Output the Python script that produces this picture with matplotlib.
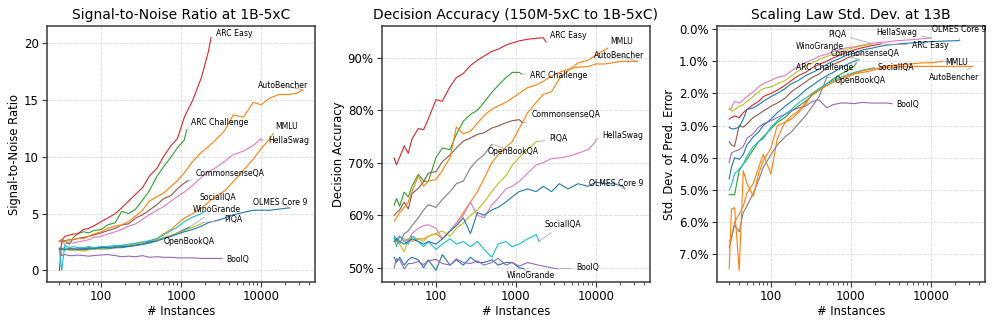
import matplotlib
matplotlib.use("Agg")
import matplotlib.pyplot as plt
from matplotlib.ticker import (LogLocator, FuncFormatter, NullFormatter,
                               MultipleLocator, PercentFormatter)

# ---------------- data ----------------
TASKS = ["WinoGrande", "MMLU", "ARC Challenge", "ARC Easy", "BoolQ",
         "CommonsenseQA", "HellaSwag", "OpenBookQA", "PIQA", "SocialIQA",
         "OLMES Core 9", "AutoBencher"]
COLORS = ["#1f77b4", "#ff7f0e", "#2ca02c", "#d62728", "#9467bd", "#8c564b",
          "#e377c2", "#7f7f7f", "#bcbd22", "#17becf", "#1f77b4", "#ff7f0e"]
MAX_N = [1267, 14042, 1172, 2376, 3270, 1221, 10042, 500, 1838, 1954, 23000, 33500]
GRID = [30, 32, 35, 40, 45, 50, 60, 70, 80, 100, 120, 150, 180, 220, 270, 330,
        400, 500, 600, 750, 900, 1100, 1400, 1800, 2200, 2800, 3500, 4500, 6000,
        8000, 10000, 13000, 17000, 22000, 28000]

SNR = {
    "WinoGrande": [1.9, 1.8, 1.9, 1.8, 1.8, 1.9, 1.8, 1.9, 1.9, 1.9, 1.9, 2.0, 2.0, 2.1, 2.2, 2.3,
                   2.4, 2.6, 2.8, 3.0, 3.3, 3.6, 3.8],
    "MMLU": [2.0, 1.9, 2.0, 1.9, 1.9, 1.9, 1.9, 2.0, 2.0, 2.0, 2.0, 2.1, 2.2, 2.2, 2.3, 2.5, 2.6,
             2.8, 3.2, 3.6, 4.1, 4.6, 5.0, 5.5, 6.0, 6.6, 7.0, 7.8, 8.8, 9.8, 10.7, 11.6, 12.0],
    "ARC Challenge": [2.6, 2.5, 2.6, 2.3, 2.9, 3.2, 3.4, 3.3, 3.5, 3.6, 4.0, 4.2, 5.2, 5.0, 5.4,
                      6.2, 7.0, 8.3, 9.1, 10.0, 10.8, 11.5, 12.4],
    "ARC Easy": [0.0, 2.6, 3.0, 3.1, 3.2, 3.2, 3.6, 3.7, 3.9, 4.3, 4.6, 5.0, 5.5, 6.1, 6.7, 7.3,
                 8.3, 9.0, 10.0, 11.0, 11.6, 13.5, 15.0, 17.0, 19.3, 20.5],
    "BoolQ": [1.9, 1.3, 1.4, 1.3, 1.3, 1.35, 1.3, 1.25, 1.3, 1.35, 1.4, 1.3, 1.2, 1.25, 1.2, 1.3,
              1.15, 1.2, 1.15, 1.15, 1.1, 1.1, 1.1, 1.05, 1.05, 1.05, 1.05],
    "CommonsenseQA": [2.6, 2.7, 2.6, 2.7, 2.7, 2.8, 2.9, 3.0, 3.1, 3.3, 3.5, 3.7, 4.0, 4.1, 4.6,
                      4.9, 5.3, 5.8, 6.3, 6.6, 7.2, 7.7, 7.9],
    "HellaSwag": [2.6, 2.5, 2.3, 2.5, 2.4, 2.5, 2.6, 2.7, 2.9, 3.0, 3.2, 3.4, 3.6, 3.9, 4.1, 4.5,
                  4.9, 5.3, 5.6, 6.1, 6.5, 6.9, 7.5, 8.2, 8.7, 9.1, 9.6, 10.2, 10.5, 11.0, 11.6, 11.5],
    "OpenBookQA": [1.9, 1.9, 1.8, 1.9, 1.8, 1.9, 1.9, 2.0, 1.9, 2.0, 2.0, 2.1, 2.1, 2.2, 2.3, 2.3,
                   2.5, 2.6],
    "PIQA": [1.8, 1.8, 1.9, 1.8, 1.8, 1.8, 1.7, 1.8, 1.9, 1.9, 2.0, 2.0, 2.1, 2.2, 2.3, 2.4, 2.5,
             2.7, 2.9, 3.1, 3.3, 3.5, 3.8, 4.1, 4.2],
    "SocialIQA": [1.9, 0.0, 2.2, 2.0, 2.1, 2.0, 2.0, 2.1, 2.0, 2.1, 2.1, 2.2, 2.2, 2.3, 2.4, 2.5,
                  2.6, 2.8, 3.1, 3.5, 3.8, 4.3, 4.7, 5.0, 5.2],
    "OLMES Core 9": [1.9, 1.9, 1.8, 1.9, 1.9, 1.8, 1.9, 1.9, 1.9, 2.0, 2.0, 2.0, 2.1, 2.1, 2.2,
                     2.3, 2.5, 2.6, 2.8, 3.0, 3.2, 3.4, 3.6, 3.9, 4.2, 4.4, 4.6, 4.9, 5.1, 5.3,
                     5.3, 5.3, 5.4, 5.5, 5.5],
    "AutoBencher": [2.6, 2.7, 2.6, 2.7, 2.7, 2.8, 2.8, 3.0, 3.2, 3.4, 3.7, 3.9, 4.0, 4.3, 4.8, 5.3,
                    6.1, 6.5, 6.8, 7.4, 7.9, 8.6, 9.6, 10.4, 10.9, 11.6, 12.3, 13.7, 13.5, 14.8,
                    14.6, 15.2, 15.5, 15.5, 15.6, 15.9],
}

DEC_ACC = {
    "WinoGrande": [52.0, 51.0, 52.0, 50.5, 51.5, 52.0, 51.5, 50.0, 51.5, 49.5, 52.5, 50.5, 51.5,
                   50.5, 52.0, 51.0, 51.0, 51.5, 50.5, 51.0, 51.0, 50.0, 49.8],
    "MMLU": [55.0, 55.5, 56.0, 55.0, 55.5, 55.0, 55.5, 55.5, 56.0, 56.5, 55.5, 57.0, 58.5, 60.5,
             62.5, 64.5, 67.0, 70.0, 71.5, 73.0, 74.0, 76.5, 79.5, 81.5, 83.0, 83.5, 86.0, 87.5,
             89.0, 89.5, 90.5, 91.5, 91.8],
    "ARC Challenge": [61.9, 63.2, 61.7, 64.4, 63.5, 65.5, 67.8, 66.5, 66.4, 71.0, 72.8, 72.5, 75.4,
                      77.9, 79.2, 80.0, 81.5, 83.4, 84.7, 86.2, 87.2, 87.2, 86.9],
    "ARC Easy": [70.9, 69.6, 71.0, 73.2, 71.8, 74.5, 76.5, 76.3, 78.3, 82.0, 81.7, 84.5, 86.2, 87.0,
                 88.5, 89.5, 90.3, 91.2, 91.6, 92.4, 92.8, 93.2, 93.5, 93.7, 93.8, 93.0],
    "BoolQ": [50.0, 51.7, 51.5, 49.8, 50.8, 50.8, 51.2, 50.6, 51.3, 51.6, 50.8, 50.5, 51.7, 51.0,
              50.8, 51.3, 50.5, 51.0, 51.8, 50.5, 51.0, 50.3, 51.0, 50.6, 50.3, 50.0, 49.8],
    "CommonsenseQA": [60.0, 60.5, 61.0, 62.5, 61.2, 64.1, 65.1, 66.4, 68.0, 68.3, 70.2, 71.5, 72.8,
                      74.1, 74.7, 75.4, 75.7, 76.6, 77.0, 77.6, 78.0, 78.2, 77.6],
    "HellaSwag": [55.5, 55.0, 56.0, 55.5, 55.0, 56.5, 57.5, 58.0, 58.2, 57.5, 55.5, 57.0, 58.5,
                  60.0, 62.5, 60.0, 59.5, 62.0, 63.2, 65.0, 65.5, 66.4, 68.0, 69.6, 70.0, 70.8,
                  70.9, 71.2, 71.8, 72.5, 74.0, 74.5],
    "OpenBookQA": [56.0, 55.5, 54.5, 56.5, 57.0, 58.0, 59.5, 61.0, 62.0, 61.5, 63.0, 64.5, 66.0,
                   66.5, 69.0, 70.5, 71.5, 73.5],
    "PIQA": [55.5, 55.0, 54.5, 53.0, 55.5, 56.0, 55.5, 55.0, 56.0, 56.5, 57.0, 56.0, 57.5, 58.5,
             60.0, 61.0, 62.5, 64.5, 66.0, 67.5, 69.5, 71.0, 72.5, 74.0, 74.0],
    "SocialIQA": [56.0, 54.0, 56.0, 55.0, 54.5, 56.0, 55.0, 54.0, 55.0, 53.5, 54.5, 55.5, 54.5,
                  55.0, 54.0, 55.0, 53.5, 52.0, 54.5, 55.0, 54.0, 54.5, 55.5, 56.3, 55.0],
    "OLMES Core 9": [55.0, 55.5, 55.0, 54.5, 55.0, 55.5, 55.0, 54.5, 55.0, 54.5, 55.5, 57.0, 58.0,
                     59.5, 56.5, 60.5, 60.0, 61.0, 61.5, 62.5, 63.5, 64.5, 65.0, 64.5, 65.5, 64.5,
                     66.0, 65.0, 66.0, 65.5, 66.3, 66.0, 66.0, 65.5, 65.0],
    "AutoBencher": [58.9, 59.5, 60.5, 61.5, 62.5, 64.5, 67.5, 65.5, 66.5, 66.8, 68.5, 71.0, 76.8,
                    75.5, 76.0, 77.5, 79.0, 80.2, 80.8, 81.5, 82.3, 83.2, 84.3, 84.8, 85.5, 86.5,
                    87.2, 87.8, 88.2, 88.3, 88.8, 88.8, 89.1, 89.3, 89.3, 89.3],
}

STD_ERR = {
    "WinoGrande": [4.65, 4.3, 4.0, 4.05, 3.9, 3.6, 3.35, 3.2, 3.0, 2.8, 2.6, 2.4, 2.25, 2.1, 1.9,
                   1.75, 1.6, 1.45, 1.35, 1.2, 1.1, 1.0, 0.95],
    "MMLU": [6.6, 6.5, 6.0, 5.75, 5.5, 5.1, 4.8, 4.3, 3.9, 4.5, 3.4, 2.9, 2.8, 2.6, 2.35, 2.0, 1.9,
             1.75, 1.65, 1.55, 1.5, 1.4, 1.35, 1.3, 1.22, 1.15, 1.12, 1.1, 1.08, 1.05, 1.05, 1.02,
             1.0],
    "ARC Challenge": [5.15, 5.15, 5.15, 4.4, 4.2, 4.05, 3.75, 3.5, 3.35, 3.1, 2.9, 2.75, 2.55, 2.4,
                      2.25, 2.05, 1.9, 1.7, 1.55, 1.4, 1.3, 1.15, 1.05],
    "ARC Easy": [2.8, 2.75, 2.7, 2.75, 2.6, 2.5, 2.35, 2.25, 2.1, 2.0, 1.9, 1.75, 1.6, 1.45, 1.35,
                 1.2, 1.1, 1.0, 0.9, 0.8, 0.72, 0.65, 0.58, 0.52, 0.48, 0.46],
    "BoolQ": [4.15, 3.85, 3.8, 3.75, 3.65, 3.4, 3.25, 3.05, 2.95, 2.85, 2.75, 2.65, 2.55, 2.45,
              2.4, 2.25, 2.2, 2.45, 2.35, 2.3, 2.3, 2.32, 2.28, 2.3, 2.3, 2.3, 2.32],
    "CommonsenseQA": [3.5, 3.6, 3.65, 3.0, 3.05, 2.95, 2.75, 2.65, 2.55, 2.4, 2.3, 2.15, 1.95, 1.8,
                      1.65, 1.5, 1.4, 1.2, 1.1, 1.0, 0.9, 0.82, 0.8],
    "HellaSwag": [2.5, 2.45, 2.25, 2.3, 2.2, 2.1, 1.95, 1.8, 1.7, 1.6, 1.5, 1.45, 1.3, 1.15, 1.05,
                  0.95, 0.85, 0.78, 0.7, 0.63, 0.58, 0.55, 0.5, 0.45, 0.42, 0.4, 0.37, 0.35, 0.33,
                  0.3, 0.28, 0.27],
    "OpenBookQA": [6.8, 6.5, 6.1, 6.3, 5.7, 5.5, 5.1, 4.7, 4.3, 3.9, 3.6, 3.35, 3.2, 2.95, 2.7,
                   2.4, 2.1, 1.5],
    "PIQA": [2.45, 2.55, 2.5, 2.4, 2.35, 2.25, 2.1, 1.95, 1.85, 1.8, 1.7, 1.6, 1.45, 1.3, 1.15,
             1.05, 0.95, 0.85, 0.78, 0.7, 0.63, 0.58, 0.52, 0.47, 0.45],
    "SocialIQA": [5.0, 4.85, 4.5, 4.35, 4.2, 3.95, 3.65, 3.5, 3.4, 3.05, 2.85, 2.65, 2.5, 2.3,
                  2.15, 2.0, 1.85, 1.7, 1.6, 1.5, 1.42, 1.35, 1.28, 1.22, 1.2],
    "OLMES Core 9": [3.05, 3.1, 3.1, 3.05, 2.8, 2.5, 2.45, 2.35, 2.25, 2.1, 2.0, 1.85, 1.7, 1.6,
                     1.45, 1.35, 1.25, 1.1, 1.0, 0.9, 0.8, 0.75, 0.65, 0.6, 0.55, 0.5, 0.48, 0.45,
                     0.43, 0.41, 0.39, 0.38, 0.37, 0.36, 0.36],
    "AutoBencher": [7.45, 5.6, 5.55, 7.5, 4.4, 4.8, 5.2, 4.5, 4.1, 3.7, 3.0, 2.9, 2.7, 2.55, 2.3,
                    2.0, 1.9, 1.75, 1.65, 1.55, 1.45, 1.38, 1.3, 1.25, 1.22, 1.2, 1.18, 1.17,
                    1.16, 1.16, 1.16, 1.16, 1.16, 1.16, 1.16, 1.16],
}

# label anchor (left edge x, centre y) in data units
LABELS_SNR = {
    "ARC Easy": (2770, 20.9), "AutoBencher": (9230, 16.3), "ARC Challenge": (1320, 13.05),
    "MMLU": (15060, 12.7), "HellaSwag": (12400, 11.4), "CommonsenseQA": (1510, 8.57),
    "SocialIQA": (1680, 6.45), "OLMES Core 9": (7850, 6.0), "WinoGrande": (1410, 5.4),
    "PIQA": (3430, 4.52), "OpenBookQA": (605, 2.5), "BoolQ": (3630, 1.0),
}
LABELS_ACC = {
    "ARC Easy": (2655, 94.3), "MMLU": (15300, 93.0), "AutoBencher": (9620, 90.4),
    "ARC Challenge": (1500, 86.6), "CommonsenseQA": (1560, 79.1), "HellaSwag": (12240, 75.2),
    "PIQA": (2610, 74.6), "OpenBookQA": (448, 72.2), "OLMES Core 9": (8160, 66.1),
    "SocialIQA": (2255, 58.2), "BoolQ": (5650, 50.0), "WinoGrande": (778, 48.5),
}
LABELS_STD = {
    "PIQA": (516, 0.16), "HellaSwag": (2075, 0.10), "OLMES Core 9": (10300, 0.03),
    "WinoGrande": (204, 0.55), "ARC Easy": (5770, 0.51), "CommonsenseQA": (563, 0.76),
    "MMLU": (15150, 1.04), "ARC Challenge": (204, 1.19), "SocialIQA": (2150, 1.2),
    "OpenBookQA": (627, 1.59), "AutoBencher": (9530, 1.51), "BoolQ": (3730, 2.34),
}

# ---------------- plotting ----------------
plt.rcParams["font.family"] = ["DejaVu Sans"]
fig = plt.figure(figsize=(9.97, 3.26), dpi=100)

panels = [
    (SNR, LABELS_SNR, "Signal-to-Noise Ratio at 1B-5xC", "Signal-to-Noise Ratio", 0.0474),
    (DEC_ACC, LABELS_ACC, "Decision Accuracy (150M-5xC to 1B-5xC)", "Decision Accuracy", 0.3832),
    (STD_ERR, LABELS_STD, "Scaling Law Std. Dev. at 13B", "Std. Dev. of Pred. Error", 0.7192),
]


def xs_for(maxn):
    return [g for g in GRID if g < maxn] + [maxn]


for idx, (data, labels, title, ylabel, left) in enumerate(panels):
    ax = fig.add_axes([left, 0.135, 0.2686, 0.785])
    for task, color, maxn in zip(TASKS, COLORS, MAX_N):
        xs = xs_for(maxn)
        ys = data[task]
        n = min(len(xs), len(ys))
        ax.plot(xs[:n], ys[:n], color=color, lw=0.8)
    for task, maxn in zip(TASKS, MAX_N):
        xs = xs_for(maxn)
        ys = data[task]
        n = min(len(xs), len(ys))
        tx, ty = labels[task]
        ax.annotate(task, xy=(xs[n - 1], ys[n - 1]), xytext=(tx, ty),
                    textcoords="data", ha="left", va="center", fontsize=5.6,
                    arrowprops=dict(arrowstyle="-", color="#aaaaaa", lw=0.6,
                                    shrinkA=1, shrinkB=0))
    ax.set_xscale("log")
    ax.xaxis.set_major_locator(LogLocator(base=10))
    ax.xaxis.set_major_formatter(FuncFormatter(lambda v, _: f"{int(round(v))}"))
    ax.xaxis.set_minor_locator(LogLocator(base=10, subs=range(2, 10)))
    ax.xaxis.set_minor_formatter(NullFormatter())
    if idx == 0:
        ax.yaxis.set_major_locator(MultipleLocator(5))
    elif idx == 1:
        ax.yaxis.set_major_locator(MultipleLocator(10))
        ax.yaxis.set_major_formatter(PercentFormatter(100, decimals=0))
    else:
        ax.yaxis.set_major_locator(MultipleLocator(1))
        ax.yaxis.set_major_formatter(PercentFormatter(100, decimals=1))
        ax.invert_yaxis()
    ax.grid(True, which="major", ls="--", color="#dddddd", lw=0.7)
    ax.set_axisbelow(True)
    for sp in ax.spines.values():
        sp.set_color("#3a3a3a")
        sp.set_linewidth(1.1)
    ax.tick_params(axis="both", which="major", labelsize=8.5, length=3.5, width=0.8,
                   color="#333333", pad=2.5)
    ax.tick_params(axis="x", which="minor", length=2, width=0.6, color="#333333")
    ax.set_title(title, fontsize=10, pad=5)
    ax.set_xlabel("# Instances", fontsize=8.3, labelpad=1)
    ax.set_ylabel(ylabel, fontsize=8.3, labelpad=2)

fig.savefig("out.png", dpi=100)
